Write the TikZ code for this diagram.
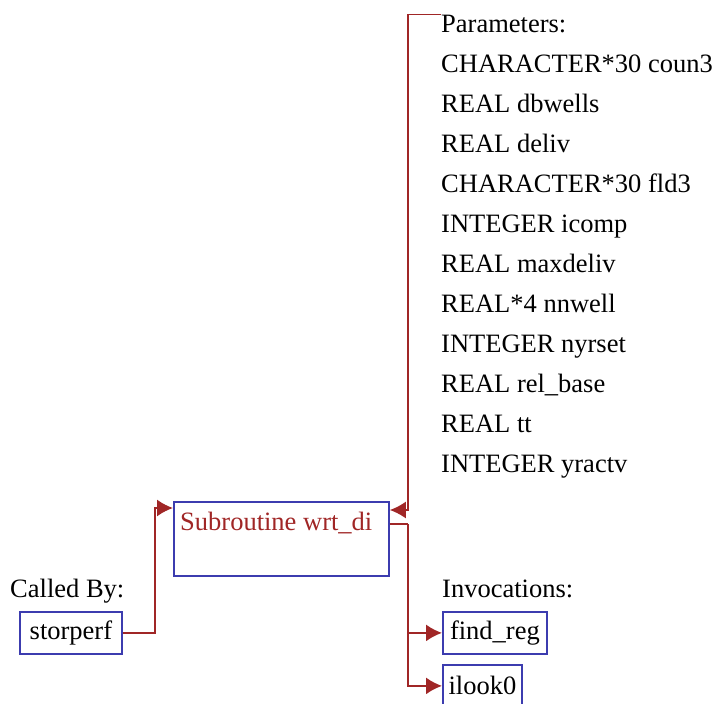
\documentclass[tikz,border=0pt]{standalone}
\usepackage{fontspec}
\setmainfont{Liberation Serif}
\usetikzlibrary{arrows.meta}
\definecolor{linkred}{RGB}{160,38,38}
\definecolor{boxblue}{RGB}{60,60,175}
\begin{document}
\begin{tikzpicture}[x=1pt,y=-1pt,
  every node/.style={font=\fontsize{26.5}{30}\selectfont},
  txt/.style={inner sep=0pt,anchor=base west},
  callbox/.style={draw=boxblue,line width=1.8pt,inner sep=0pt,anchor=north west,minimum height=42pt},
  link/.style={draw=linkred,line width=1.8pt},
  flow/.style={link,-{Latex[length=16pt,width=17pt]}}]
\useasboundingbox (0,0) rectangle (724,704);

\node[txt] (params)   at (441,32)  {Parameters:};
\node[txt] (coun3)    at (441,72)  {CHARACTER*30 coun3};
\node[txt] (dbwells)  at (441,112) {REAL dbwells};
\node[txt] (deliv)    at (441,152) {REAL deliv};
\node[txt] (fld3)     at (441,192) {CHARACTER*30 fld3};
\node[txt] (icomp)    at (441,232) {INTEGER icomp};
\node[txt] (maxdeliv) at (441,272) {REAL maxdeliv};
\node[txt] (nnwell)   at (441,312) {REAL*4 nnwell};
\node[txt] (nyrset)   at (441,352) {INTEGER nyrset};
\node[txt] (relbase)  at (441,392) {REAL rel\_base};
\node[txt] (tt)       at (441,432) {REAL tt};
\node[txt] (yractv)   at (441,472) {INTEGER yractv};

\node[callbox,minimum width=215pt,minimum height=74pt] (wrt) at (173,501) {};
\node[txt,text=linkred] (wrttitle) at (180,530) {Subroutine wrt\_di};

\node[txt] (calledby) at (10,597) {Called By:};
\node[callbox,minimum width=102pt] (storperf) at (19,611) {storperf};

\node[txt] (invoc) at (442,597) {Invocations:};
\node[callbox,minimum width=104pt] (findreg) at (442,611) {find\_reg};
\node[callbox,minimum width=79pt] (ilook) at (442,664) {ilook0};

\coordinate (pin)  at (408,510);
\coordinate (pout) at (408,524);
\coordinate (cin)  at (155,508);

\draw[flow] (params.north west) -| (pin) -- (pin -| wrt.east);
\draw[flow] (storperf.east) -| (cin) -- (cin -| wrt.west);
\draw[link] (pout -| wrt.east) -- (pout);
\draw[flow] (pout) |- (findreg.west);
\draw[flow] (pout) |- (ilook.west);
\end{tikzpicture}
\end{document}
